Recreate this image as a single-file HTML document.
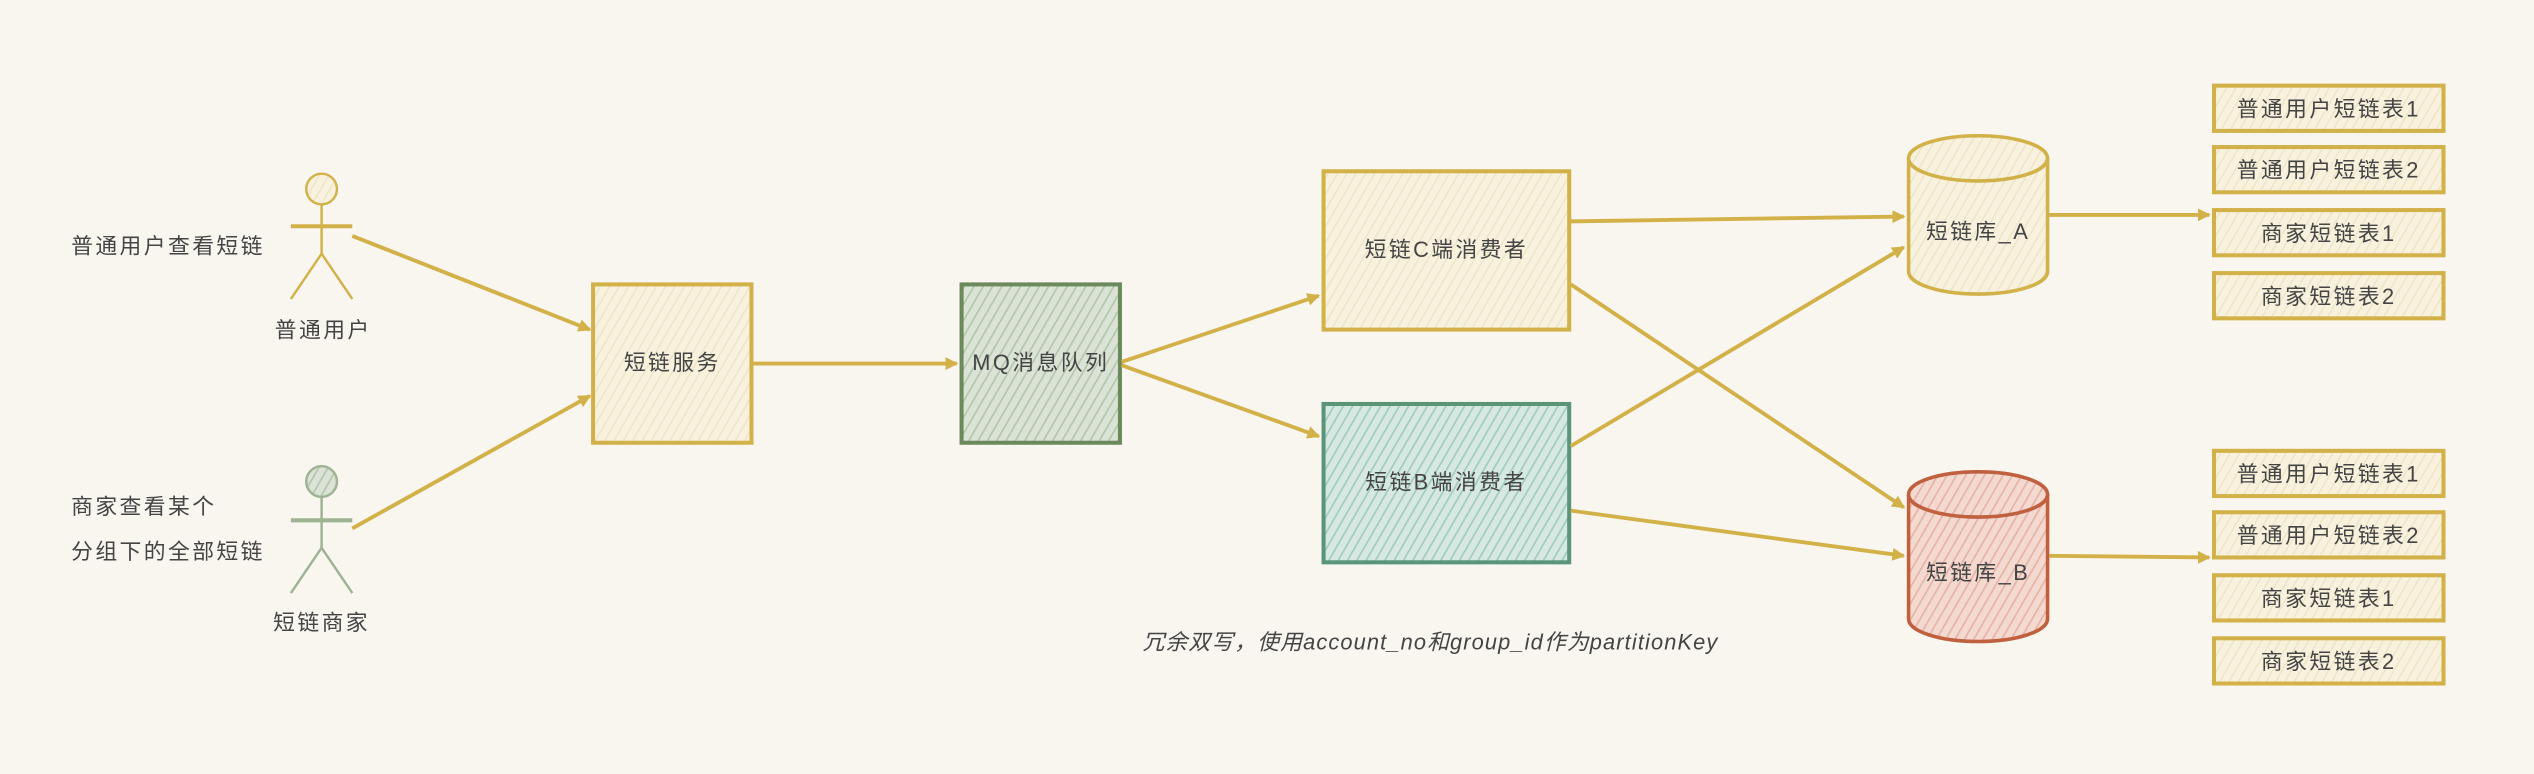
<!DOCTYPE html>
<html><head><meta charset="utf-8"><style>
html,body{margin:0;padding:0;background:#f9f6f0;}
svg{display:block}
text{font-family:"Liberation Sans","Noto Sans CJK SC",sans-serif;fill:#444;font-size:13.5px;letter-spacing:1.5px;}
</style></head><body>
<svg width="2534" height="774" viewBox="0 0 1568 479" preserveAspectRatio="none" xmlns="http://www.w3.org/2000/svg">
<defs>
<pattern id="hy" width="5" height="5" patternUnits="userSpaceOnUse" patternTransform="rotate(30)"><rect width="5" height="5" fill="#f7f1de"/><line x1="0" y1="0" x2="0" y2="5" stroke="#ece3c3" stroke-width="1.5"/></pattern>
<pattern id="hg" width="5" height="5" patternUnits="userSpaceOnUse" patternTransform="rotate(30)"><rect width="5" height="5" fill="#dbe3d6"/><line x1="0" y1="0" x2="0" y2="5" stroke="#b2c6ab" stroke-width="2"/></pattern>
<pattern id="ht" width="5" height="5" patternUnits="userSpaceOnUse" patternTransform="rotate(30)"><rect width="5" height="5" fill="#d6e8e1"/><line x1="0" y1="0" x2="0" y2="5" stroke="#9fcbbd" stroke-width="2"/></pattern>
<pattern id="hr" width="5" height="5" patternUnits="userSpaceOnUse" patternTransform="rotate(30)"><rect width="5" height="5" fill="#f3d9d0"/><line x1="0" y1="0" x2="0" y2="5" stroke="#e6b2a4" stroke-width="2"/></pattern>
<marker id="ar" markerWidth="8" markerHeight="8" refX="7" refY="4" orient="auto" markerUnits="userSpaceOnUse"><path d="M0,0 L8,4 L0,8 z" fill="#d2b149"/></marker>
</defs>
<rect width="1568" height="479" fill="#f9f6f0"/>

<g stroke="#d2b149" stroke-width="1.5" fill="none">
<circle cx="199" cy="117" r="9.5" fill="url(#hy)"/>
<line x1="199" y1="127" x2="199" y2="157"/>
<line x1="180" y1="140" x2="218" y2="140" stroke-width="2.5"/>
<line x1="199" y1="157" x2="180" y2="185"/><line x1="199" y1="157" x2="218" y2="185"/>
</g>
<g stroke="#9db393" stroke-width="1.5" fill="none">
<circle cx="199" cy="298" r="9.5" fill="url(#hg)"/>
<line x1="199" y1="308" x2="199" y2="339"/>
<line x1="180" y1="322" x2="218" y2="322" stroke-width="2.5"/>
<line x1="199" y1="339" x2="180" y2="367"/><line x1="199" y1="339" x2="218" y2="367"/>
</g>
<text x="200" y="209" text-anchor="middle">普通用户</text>
<text x="199" y="390" text-anchor="middle">短链商家</text>
<text x="44" y="157">普通用户查看短链</text>
<text x="44" y="318">商家查看某个</text>
<text x="44" y="346">分组下的全部短链</text>

<rect x="367" y="176" width="98" height="98" fill="url(#hy)" stroke="#d2b149" stroke-width="2.5"/>
<text x="416" y="229" text-anchor="middle">短链服务</text>
<rect x="595" y="176" width="98" height="98" fill="url(#hg)" stroke="#6b8a5c" stroke-width="2.5"/>
<text x="644" y="229" text-anchor="middle">MQ消息队列</text>
<rect x="819" y="106" width="152" height="98" fill="url(#hy)" stroke="#d2b149" stroke-width="2.5"/>
<text x="895" y="159" text-anchor="middle">短链C端消费者</text>
<rect x="819" y="250" width="152" height="98" fill="url(#ht)" stroke="#5a957a" stroke-width="2.5"/>
<text x="895" y="303" text-anchor="middle">短链B端消费者</text>

<path d="M1181,98 L1181,168 A43,14 0 0 0 1267,168 L1267,98" fill="url(#hy)" stroke="#d2b149" stroke-width="2.2"/>
<ellipse cx="1224" cy="98" rx="43" ry="14" fill="url(#hy)" stroke="#d2b149" stroke-width="2.2"/>
<text x="1224" y="148" text-anchor="middle">短链库_A</text>
<path d="M1181,306 L1181,383 A43,14 0 0 0 1267,383 L1267,306" fill="url(#hr)" stroke="#c0603f" stroke-width="2.2"/>
<ellipse cx="1224" cy="306" rx="43" ry="14" fill="url(#hr)" stroke="#c0603f" stroke-width="2.2"/>
<text x="1224" y="359" text-anchor="middle">短链库_B</text>

<g stroke="#d2b149" stroke-width="2.5" fill="url(#hy)">
<rect x="1370" y="53" width="142" height="28"/><rect x="1370" y="91" width="142" height="28"/>
<rect x="1370" y="130" width="142" height="28"/><rect x="1370" y="169" width="142" height="28"/>
<rect x="1370" y="279" width="142" height="28"/><rect x="1370" y="317" width="142" height="28"/>
<rect x="1370" y="356" width="142" height="28"/><rect x="1370" y="395" width="142" height="28"/>
</g>
<g text-anchor="middle">
<text x="1441" y="72">普通用户短链表1</text><text x="1441" y="110">普通用户短链表2</text>
<text x="1441" y="149">商家短链表1</text><text x="1441" y="188">商家短链表2</text>
<text x="1441" y="298">普通用户短链表1</text><text x="1441" y="336">普通用户短链表2</text>
<text x="1441" y="375">商家短链表1</text><text x="1441" y="414">商家短链表2</text>
</g>

<g stroke="#d2b149" stroke-width="2.4" fill="none" marker-end="url(#ar)">
<line x1="218" y1="146" x2="365" y2="204"/>
<line x1="218" y1="327" x2="365" y2="245"/>
<line x1="466" y1="225" x2="592" y2="225"/>
<line x1="694" y1="224" x2="816" y2="183"/>
<line x1="694" y1="226" x2="816" y2="270"/>
<line x1="972" y1="137" x2="1178" y2="134"/>
<line x1="972" y1="176" x2="1178" y2="314"/>
<line x1="972" y1="276" x2="1178" y2="153"/>
<line x1="972" y1="316" x2="1178" y2="344"/>
<line x1="1268" y1="133" x2="1367" y2="133"/>
<line x1="1268" y1="344" x2="1367" y2="345"/>
</g>

<text x="707" y="402" font-style="italic" style="letter-spacing:0.7px">冗余双写，使用account_no和group_id作为partitionKey</text>
</svg>
</body></html>
